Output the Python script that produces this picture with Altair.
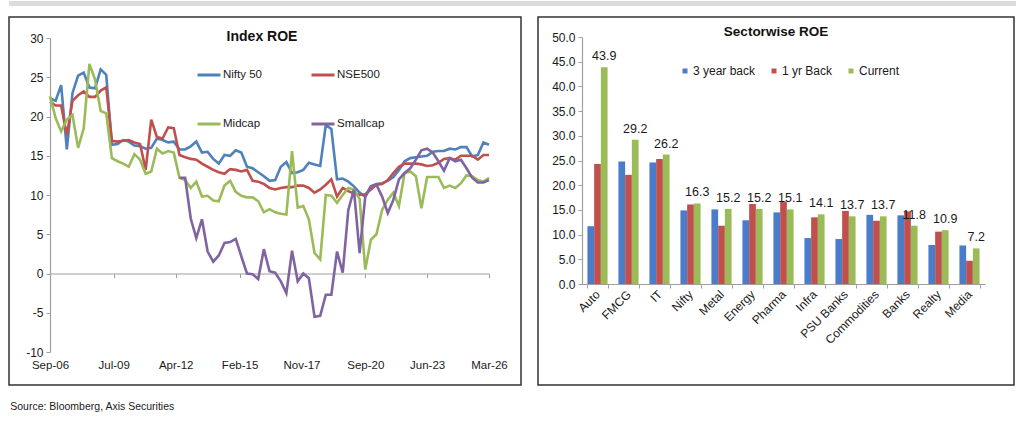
import altair as alt
import pandas as pd

FONT = "Liberation Sans"
AXIS_GREY = "#a0a0a0"
TEXT = "#1a1a1a"

# ---------------- Index ROE (quarterly, Sep-06 .. Mar-26) ----------------
quarters = pd.date_range("2006-09-01", "2026-03-01", freq="3MS").strftime("%Y-%m-%d").tolist()

series_names = ["Nifty 50", "NSE500", "Midcap", "Smallcap"]
line_colors = ["#4f81bd", "#c0504d", "#9bbb59", "#8064a2"]

nifty50 = [22.3, 22.0, 24.0, 15.8, 23.0, 25.2, 25.6, 23.7, 23.6, 26.0,
           25.3, 16.4, 16.5, 17.0, 16.8, 16.3, 16.2, 15.9, 16.0, 17.2,
           17.0, 16.7, 16.8, 15.8, 15.8, 16.2, 16.8, 15.4, 15.5, 14.6,
           14.0, 15.1, 15.0, 15.7, 15.4, 13.6, 13.4, 12.9, 12.4, 11.8,
           11.9, 13.6, 14.2, 12.8, 12.9, 13.2, 14.1, 13.9, 13.7, 18.9,
           18.4, 12.0, 12.1, 11.7, 11.1, 10.3, 9.8, 11.1, 11.4, 11.5,
           11.8, 12.3, 13.2, 14.3, 14.7, 14.8, 14.9, 15.0, 15.5, 15.6,
           15.6, 15.9, 15.8, 16.1, 16.1, 14.9, 15.1, 16.7, 16.4]

nse500 = [21.9, 21.4, 21.4, 17.6, 22.0, 22.7, 23.2, 22.5, 22.5, 23.3,
          23.7, 16.9, 16.8, 16.9, 17.0, 16.7, 16.5, 13.2, 19.6, 17.4,
          17.2, 18.6, 18.5, 15.1, 14.8, 14.6, 14.5, 14.0, 13.6, 13.2,
          12.9, 12.7, 13.3, 13.2, 13.0, 13.2, 11.8, 11.7, 11.4, 10.9,
          10.7, 10.9, 11.0, 11.0, 11.2, 11.2, 10.9, 10.3, 10.7, 11.3,
          12.0, 9.8, 10.9, 10.5, 10.2, 10.0, 10.1, 10.7, 11.3, 11.4,
          11.9, 12.8, 13.6, 14.0, 14.0, 14.0, 13.9, 13.7, 13.8, 14.1,
          14.6, 14.7, 14.5, 15.0, 15.0, 15.0, 14.5, 15.1, 15.1]

midcap = [22.6, 19.8, 18.1, 19.6, 20.2, 16.0, 18.5, 26.7, 24.7, 20.7,
          20.4, 14.7, 14.3, 14.0, 13.6, 15.2, 14.5, 12.7, 13.0, 15.9,
          15.3, 15.6, 15.4, 12.2, 11.9, 10.9, 11.7, 9.8, 9.9, 9.3,
          9.2, 11.2, 11.8, 10.4, 9.9, 9.7, 9.7, 9.2, 7.8, 8.2,
          7.8, 7.6, 7.5, 15.6, 8.4, 8.6, 6.9, 2.6, 1.8, 10.0,
          9.9, 9.0, 10.0, 10.9, 10.7, 9.5, 0.5, 4.3, 5.0, 8.1,
          9.4, 10.3, 8.6, 12.8, 13.0, 12.4, 8.3, 12.3, 12.3, 12.3,
          10.9, 11.2, 10.9, 11.5, 12.5, 12.4, 11.9, 11.7, 12.2]

smallcap = [None] * 23 + [
    12.2, 12.2, 7.0, 4.5, 6.9, 2.8, 1.5, 2.3, 3.9, 4.0,
    4.4, 2.2, 0.0, -0.1, -0.7, 3.1, 0.3, 0.1, -1.0, -2.5,
    2.9, -1.0, 0.0, -0.6, -5.5, -5.4, -2.7, -2.7, 2.8, 0.1,
    8.1, 10.7, 2.6, 9.8, 11.1, 11.3, 9.8, 7.7, 9.4, 12.0,
    12.8, 13.4, 14.5, 15.7, 15.9, 15.4, 14.3, 13.1, 14.7, 14.3,
    14.5, 13.4, 12.2, 11.6, 11.6, 11.9]

date_ticks = [(2006, 9), (2009, 7), (2012, 4), (2015, 2), (2017, 11),
              (2020, 9), (2023, 6), (2026, 3)]

rows = []
for name, vals in zip(series_names, [nifty50, nse500, midcap, smallcap]):
    for d, v in zip(quarters, vals):
        if v is not None:
            rows.append({"date": d, "series": name, "roe": v})
roe_df = pd.DataFrame(rows)


def dt(y, m):
    return alt.DateTime(year=y, month=m, date=1, utc=True)


index_chart = alt.Chart(roe_df).mark_line(strokeWidth=2.6).encode(
    x=alt.X(
        "date:T",
        scale=alt.Scale(type="utc", domain=[dt(2006, 9), dt(2026, 3)], range=[41, 480]),
        axis=alt.Axis(values=[dt(y, m) for y, m in date_ticks], format="%b-%y",
                      title=None, grid=False, offset=-111.5, tickSize=4,
                      labelPadding=82, labelFontSize=11.5, labelFlush=False,
                      labelOverlap=False),
    ),
    y=alt.Y(
        "roe:Q",
        scale=alt.Scale(domain=[-10, 30], range=[335, 21], nice=False, zero=False),
        axis=alt.Axis(values=list(range(-10, 31, 5)), title=None, grid=False,
                      offset=-41, tickSize=4, labelPadding=3,
                      labelExpr="datum.value + ''"),
    ),
    color=alt.Color(
        "series:N",
        scale=alt.Scale(domain=series_names, range=line_colors),
        legend=alt.Legend(title=None, orient="none", legendX=187, legendY=45,
                          direction="horizontal", columns=2, symbolType="stroke",
                          symbolSize=529, symbolStrokeWidth=3, labelOffset=1,
                          columnPadding=43, rowPadding=30, labelFontSize=11.5),
    ),
).properties(
    width=512, height=368,
    title=alt.TitleParams("Index ROE", offset=-27, dx=-3, fontSize=14),
    view=alt.ViewBackground(stroke="#333333", strokeWidth=1.5),
)

# ---------------- Sectorwise ROE ----------------
sectors = ["Auto", "FMCG", "IT", "Nifty", "Metal", "Energy", "Pharma", "Infra",
           "PSU Banks", "Commodities", "Banks", "Realty", "Media"]
periods = ["3 year back", "1 yr Back", "Current"]
bar_colors = ["#4a7cc9", "#c0504d", "#9bbb59"]

three_yr_back = [11.7, 24.8, 24.6, 14.9, 15.1, 12.9, 14.5, 9.3, 9.1, 14.0, 13.9, 7.9, 7.8]
one_yr_back = [24.3, 22.1, 25.3, 16.1, 11.8, 16.2, 16.7, 13.5, 14.8, 12.8, 14.7, 10.6, 4.7]
current = [43.9, 29.2, 26.2, 16.3, 15.2, 15.2, 15.1, 14.1, 13.7, 13.7, 11.8, 10.9, 7.2]

bar_rows = []
for period, vals in zip(periods, [three_yr_back, one_yr_back, current]):
    for s, v in zip(sectors, vals):
        bar_rows.append({"sector": s, "period": period, "roe": v})
bar_df = pd.DataFrame(bar_rows)

x_sector = alt.X(
    "sector:N", sort=sectors,
    scale=alt.Scale(range=[44, 447], paddingInner=0.35, paddingOuter=0.175),
    axis=alt.Axis(title=None, labelAngle=-45, labelAlign="right", labelBaseline="middle",
                  tickBand="extent", offset=-101, tickSize=4, labelPadding=4,
                  grid=False),
)
x_off = alt.XOffset("period:N", sort=periods, scale=alt.Scale(domain=periods))
y_roe = alt.Y(
    "roe:Q",
    scale=alt.Scale(domain=[0, 50], range=[267, 20], nice=False),
    axis=alt.Axis(values=list(range(0, 51, 5)), format=".1f", title=None, grid=False,
                  offset=-44, tickSize=4, labelPadding=3),
)

bars = alt.Chart(bar_df).mark_bar().encode(
    x=x_sector, xOffset=x_off, y=y_roe,
    color=alt.Color(
        "period:N",
        scale=alt.Scale(domain=periods, range=bar_colors),
        legend=alt.Legend(title=None, orient="none", legendX=141, legendY=48,
                          direction="horizontal", symbolType="square", symbolSize=25,
                          labelOffset=2, columnPadding=12, labelFontSize=12),
    ),
)

labels = alt.Chart(bar_df).transform_filter(
    alt.datum.period == "Current"
).mark_text(baseline="bottom", dy=-4, fontSize=12.5, color=TEXT, font=FONT).encode(
    x=x_sector, xOffset=x_off, y=y_roe,
    text=alt.Text("roe:Q", format=".1f"),
)

sector_chart = alt.layer(bars, labels).properties(
    width=476, height=368,
    title=alt.TitleParams("Sectorwise ROE", offset=-21, fontSize=13.5),
    view=alt.ViewBackground(stroke="#333333", strokeWidth=1.5),
)

top_band = alt.Chart(pd.DataFrame({"k": [0]})).mark_rect(color="#dcdcdc").encode(
    x=alt.value(0), x2=alt.value(1007), y=alt.value(0), y2=alt.value(5)
).properties(width=1007, height=5, view=alt.ViewBackground(stroke="transparent"))

panels = alt.hconcat(index_chart, sector_chart, spacing=11).resolve_scale(color="independent")

chart = alt.vconcat(top_band, panels, spacing=9).properties(
    title=alt.TitleParams("Source: Bloomberg, Axis Securities", orient="bottom",
                          anchor="start", fontSize=10.5, fontWeight="normal",
                          color=TEXT, offset=16, dx=2),
    padding={"left": 8, "top": 0, "right": 0, "bottom": 0},
    background="white",
).configure_view(
    stroke="transparent"
).configure_axis(
    labelFont=FONT, labelFontSize=12, labelColor=TEXT,
    domainColor=AXIS_GREY, tickColor=AXIS_GREY, domainWidth=1.2,
).configure_legend(
    labelFont=FONT, labelColor=TEXT,
).configure_title(
    font=FONT, fontWeight="bold", color="#111111", anchor="middle",
)

chart.save("out.html", embed_options={"renderer": "svg", "actions": False})
